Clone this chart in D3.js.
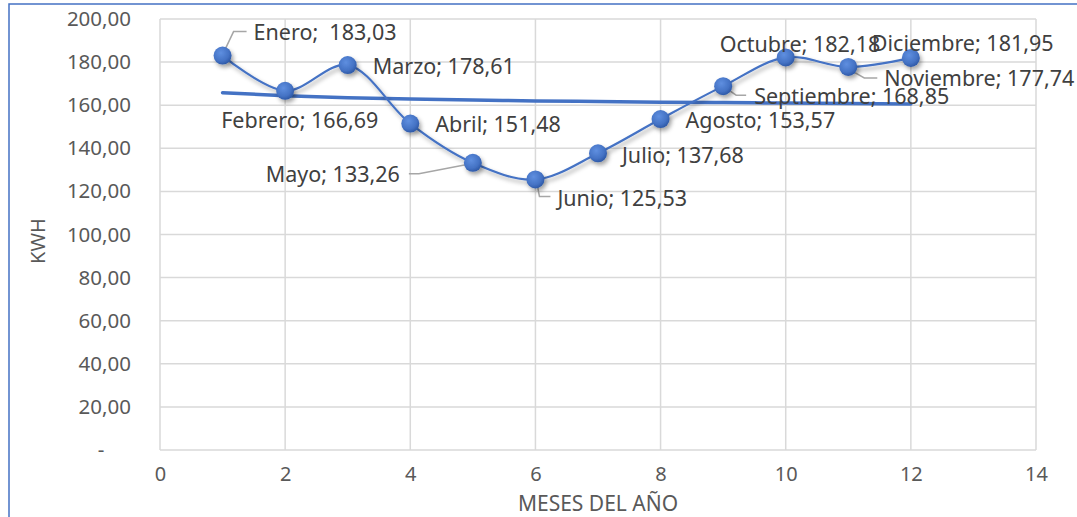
<!DOCTYPE html>
<html lang="es">
<head>
<meta charset="UTF-8">
<script src="https://cdnjs.cloudflare.com/ajax/libs/d3/7.8.5/d3.min.js"></script>
<title>KWH por mes</title>
<style>
    body { margin: 0; background: #fff; }
    svg { display: block; font-family: "Noto Sans", "Open Sans", sans-serif; }
</style>
</head>
<body>
<svg width="1077" height="517"></svg>
<script>
    // data
    var meses = ["Enero", "Febrero", "Marzo", "Abril", "Mayo", "Junio", "Julio",
        "Agosto", "Septiembre", "Octubre", "Noviembre", "Diciembre"];
    var numMes = [1, 2, 3, 4, 5, 6, 7, 8, 9, 10, 11, 12];
    var kwh = [183.03, 166.69, 178.61, 151.48, 133.26, 125.53, 137.68,
        153.57, 168.85, 182.18, 177.74, 181.95];
    var tendencia = [165.8, 164.4, 163.5, 162.9, 162.4, 162.0, 161.7,
        161.4, 161.2, 161.0, 160.8, 160.6];
    var xTicks = [0, 2, 4, 6, 8, 10, 12, 14];
    var yTicks = [0, 20, 40, 60, 80, 100, 120, 140, 160, 180, 200];

    // label placement relative to each marker (dx, dy, anchor, leader points)
    var labelPos = [
        { dx: 31, dy: -23, a: "start", lead: [[1, -3], [11, -24], [24, -24]] },
        { dx: -64, dy: 30, a: "start" },
        { dx: 25, dy: 1, a: "start" },
        { dx: 25, dy: 1, a: "start" },
        { dx: -73, dy: 12, a: "end", lead: [[-2, 1], [-54, 11], [-64, 11]] },
        { dx: 22, dy: 19, a: "start", lead: [[1, 1], [4, 17], [15, 17]] },
        { dx: 24, dy: 2, a: "start" },
        { dx: 25, dy: 1, a: "start" },
        { dx: 31, dy: 10, a: "start", lead: [[0, 0], [13, 9], [23, 9]] },
        { dx: -66, dy: -13, a: "start" },
        { dx: 36, dy: 12, a: "start", lead: [[0, 2], [16, 11], [29, 11]] },
        { dx: -39, dy: -14, a: "start" }
    ];

    var svg = d3.select("svg");
    var pLeft = 160, pRight = 1036, pTop = 19, pBottom = 450;

    var x = d3.scaleLinear().domain([0, 14]).range([pLeft, pRight]);
    var y = d3.scaleLinear().domain([0, 200]).range([pBottom, pTop]);

    var loc = d3.formatLocale({ decimal: ",", thousands: ".", grouping: [3], currency: ["", ""] });
    var fmt = loc.format(",.2f");

    var defs = svg.append("defs");
    var grad = defs.append("radialGradient").attr("id", "bola")
        .attr("cx", "40%").attr("cy", "35%").attr("r", "65%");
    grad.append("stop").attr("offset", "0%").attr("stop-color", "#5f8fe0");
    grad.append("stop").attr("offset", "70%").attr("stop-color", "#4472c4");
    grad.append("stop").attr("offset", "100%").attr("stop-color", "#2f5aa8");

    var sh = defs.append("filter").attr("id", "sombra")
        .attr("x", "-50%").attr("y", "-50%").attr("width", "200%").attr("height", "200%");
    sh.append("feDropShadow").attr("dx", 2).attr("dy", 3).attr("stdDeviation", 2)
        .attr("flood-color", "#000").attr("flood-opacity", 0.35);

    // chart frame (only top and left visible)
    svg.append("path")
        .attr("d", "M9,517 V4 H1077")
        .attr("fill", "none")
        .attr("stroke", "#4472c4")
        .attr("stroke-width", 1.5);

    // grid
    svg.append("g").selectAll("line").data(yTicks).enter().append("line")
        .attr("x1", pLeft).attr("x2", pRight)
        .attr("y1", d => y(d)).attr("y2", d => y(d))
        .attr("stroke", "#d9d9d9").attr("stroke-width", 1.5);
    svg.append("g").selectAll("line").data(xTicks).enter().append("line")
        .attr("x1", d => x(d)).attr("x2", d => x(d))
        .attr("y1", pTop).attr("y2", pBottom)
        .attr("stroke", "#d9d9d9").attr("stroke-width", 1.5);

    // y axis
    var yAxis = svg.append("g")
        .attr("transform", "translate(" + (pLeft - 29) + ",0)")
        .call(d3.axisLeft(y).tickValues(yTicks).tickSize(0).tickPadding(0)
            .tickFormat(d => d === 0 ? "-     " : fmt(d)));
    yAxis.select(".domain").remove();
    yAxis.selectAll("text")
        .attr("fill", "#595959").attr("font-size", 20.5)
        .attr("font-family", "Noto Sans").style("white-space", "pre");

    // x axis
    var xAxis = svg.append("g")
        .attr("transform", "translate(0," + (pBottom + 17) + ")")
        .call(d3.axisBottom(x).tickValues(xTicks).tickSize(0).tickPadding(0));
    xAxis.select(".domain").remove();
    xAxis.selectAll("text")
        .attr("fill", "#595959").attr("font-size", 20)
        .attr("font-family", "Noto Sans");

    // axis titles
    svg.append("text")
        .attr("transform", "translate(45,241) rotate(-90)")
        .attr("text-anchor", "middle")
        .attr("fill", "#595959").attr("font-size", 20)
        .text("KWH");
    svg.append("text")
        .attr("x", 598).attr("y", 511)
        .attr("text-anchor", "middle")
        .attr("fill", "#595959").attr("font-size", 21)
        .text("MESES DEL AÑO");

    // trend
    var trendLine = d3.line()
        .x((d, i) => x(numMes[i]))
        .y(d => y(d))
        .curve(d3.curveMonotoneX);
    svg.append("path")
        .datum(tendencia)
        .attr("d", trendLine)
        .attr("fill", "none")
        .attr("stroke", "#4472c4")
        .attr("stroke-width", 3.5)
        .attr("stroke-linecap", "round");

    // series line
    var serie = d3.line()
        .x((d, i) => x(numMes[i]))
        .y(d => y(d))
        .curve(d3.curveCatmullRom.alpha(0.5));
    svg.append("path")
        .datum(kwh)
        .attr("d", serie)
        .attr("fill", "none")
        .attr("stroke", "#4472c4")
        .attr("stroke-width", 2.2)
        .attr("filter", "url(#sombra)");

    // leader lines
    svg.append("g").selectAll("polyline")
        .data(kwh.map((v, i) => ({ v: v, i: i })).filter(d => labelPos[d.i].lead))
        .enter().append("polyline")
        .attr("points", d => labelPos[d.i].lead
            .map(p => (x(numMes[d.i]) + p[0]) + "," + (y(d.v) + p[1])).join(" "))
        .attr("fill", "none")
        .attr("stroke", "#a6a6a6")
        .attr("stroke-width", 1.5);

    // markers
    svg.append("g").selectAll("circle")
        .data(kwh).enter().append("circle")
        .attr("cx", (d, i) => x(numMes[i]))
        .attr("cy", d => y(d))
        .attr("r", 9)
        .attr("fill", "url(#bola)")
        .attr("filter", "url(#sombra)");

    // data labels
    svg.append("g").selectAll("text")
        .data(kwh).enter().append("text")
        .attr("x", (d, i) => x(numMes[i]) + labelPos[i].dx)
        .attr("y", (d, i) => y(d) + labelPos[i].dy)
        .attr("dy", "0.35em")
        .attr("text-anchor", (d, i) => labelPos[i].a)
        .attr("fill", "#404040")
        .attr("font-size", 21.5)
        .style("white-space", "pre")
        .text((d, i) => meses[i] + (i === 0 ? ";  " : "; ") + fmt(d));
</script>
</body>
</html>
